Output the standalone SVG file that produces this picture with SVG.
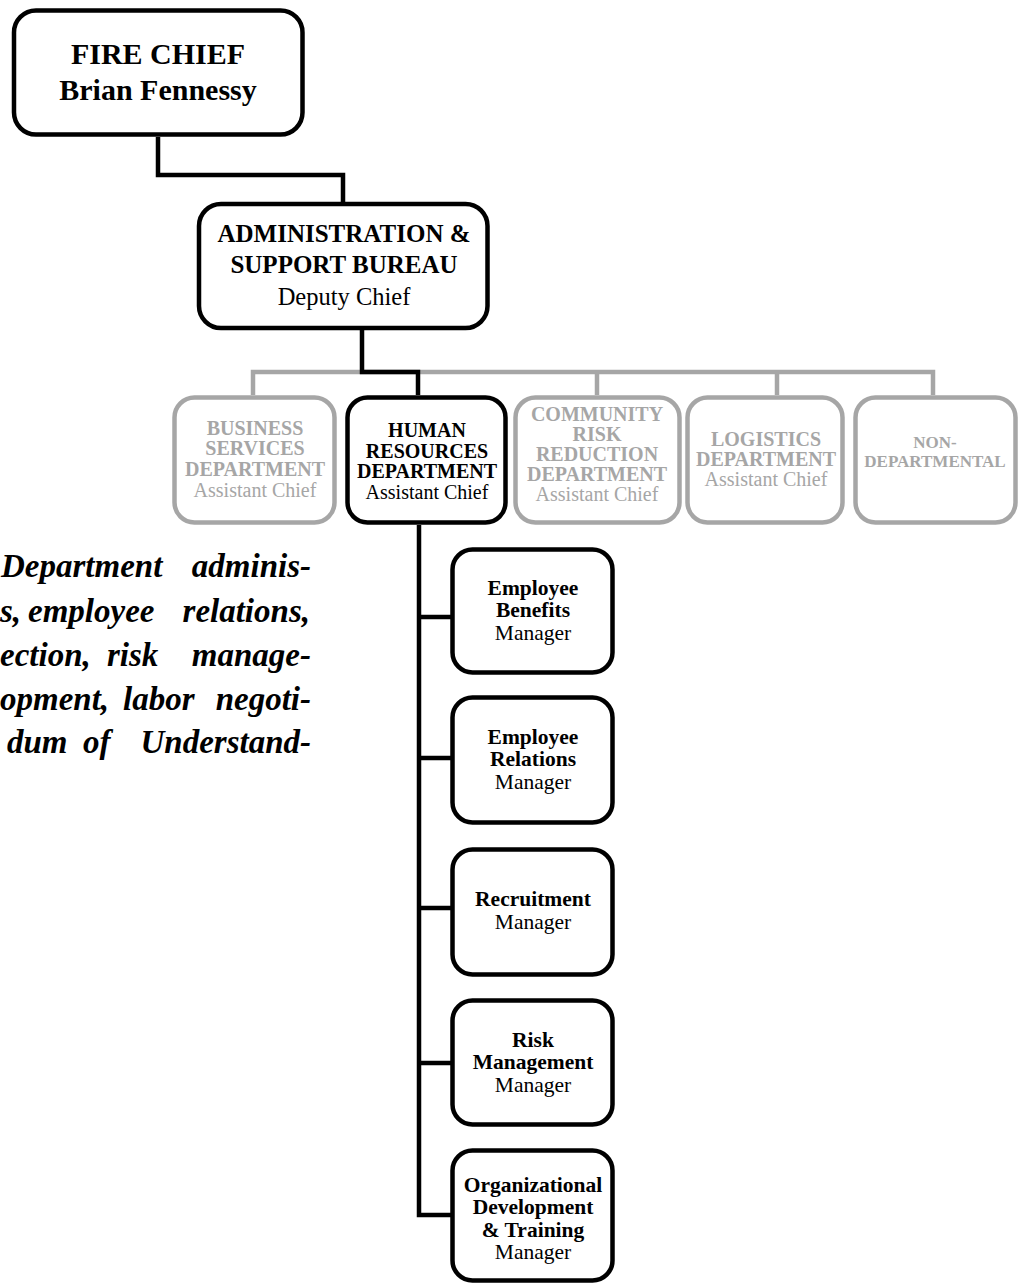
<svg xmlns="http://www.w3.org/2000/svg" width="1025" height="1286" viewBox="0 0 1025 1286">
  <style>
    .box { fill: #ffffff; stroke: #000000; stroke-width: 4.5; }
    .dim { fill: #ffffff; stroke: #a6a6a6; stroke-width: 4.5; }
    .link { fill: none; stroke: #000000; stroke-width: 4.5; stroke-linejoin: miter; }
    .glink { fill: none; stroke: #a6a6a6; stroke-width: 4.5; stroke-linejoin: miter; }
    text { font-family: "Liberation Serif", "Times New Roman", serif; text-anchor: middle; fill: #000000; }
    .b { font-weight: bold; }
    .g { fill: #a6a6a6; }
    .t1 { font-size: 30px; }
    .t2 { font-size: 24.5px; }
    .t2b { font-size: 25px; }
    .t3 { font-size: 20px; }
    .t3s { font-size: 17px; }
    .t4 { font-size: 21.5px; }
    .para { font-size: 33px; font-weight: bold; font-style: italic; text-anchor: start; }
    .para.e { text-anchor: end; }
  </style>
  <rect width="1025" height="1286" fill="#ffffff"/>

  <!-- description paragraph (left column, cut at page edge) -->
  <g id="description">
    <text class="para" x="1" y="577">Department</text>
    <text class="para e" x="311" y="577">adminis-</text>
    <text class="para" x="0" y="622">s,</text>
    <text class="para" x="28" y="622">employee</text>
    <text class="para e" x="310" y="622">relations,</text>
    <text class="para" x="0" y="666">ection,</text>
    <text class="para" x="107" y="666">risk</text>
    <text class="para e" x="311" y="666">manage-</text>
    <text class="para" x="0" y="710">opment,</text>
    <text class="para" x="123" y="710">labor</text>
    <text class="para e" x="311" y="710">negoti-</text>
    <text class="para" x="7" y="753">dum</text>
    <text class="para" x="83" y="753">of</text>
    <text class="para e" x="311" y="753">Understand-</text>
  </g>

  <!-- connectors -->
  <g id="connectors">
    <path class="glink" d="M253,395 V372 H933 V395"/>
    <path class="glink" d="M597,372 V395"/>
    <path class="glink" d="M777,372 V395"/>
    <path class="link" d="M158,137 V175 H343 V202"/>
    <path class="link" d="M362,330 V372 H418 V395"/>
    <path class="link" d="M419,525 V1215 H452"/>
    <path class="link" d="M419,617 H452"/>
    <path class="link" d="M419,758 H452"/>
    <path class="link" d="M419,908 H452"/>
    <path class="link" d="M419,1063 H452"/>
  </g>

  <g id="fire-chief">
    <rect class="box" x="14" y="10.5" width="288.5" height="124" rx="22"/>
    <text class="b t1" x="158" y="64">FIRE CHIEF</text>
    <text class="b t1" x="158" y="100">Brian Fennessy</text>
  </g>

  <g id="admin-support-bureau">
    <rect class="box" x="199" y="204" width="288.5" height="124" rx="22"/>
    <text class="b t2b" x="344" y="242">ADMINISTRATION &amp;</text>
    <text class="b t2b" x="344" y="273">SUPPORT BUREAU</text>
    <text class="t2" x="344" y="305">Deputy Chief</text>
  </g>

  <g id="business-services">
    <rect class="dim" x="174.5" y="397.5" width="160" height="125" rx="20"/>
    <text class="b t3 g" x="255" y="435">BUSINESS</text>
    <text class="b t3 g" x="255" y="455">SERVICES</text>
    <text class="b t3 g" x="255" y="476">DEPARTMENT</text>
    <text class="t3 g" x="255" y="497">Assistant Chief</text>
  </g>

  <g id="human-resources">
    <rect class="box" x="347.5" y="397.5" width="158" height="125" rx="20"/>
    <text class="b t3" x="427" y="437">HUMAN</text>
    <text class="b t3" x="427" y="458">RESOURCES</text>
    <text class="b t3" x="427" y="478">DEPARTMENT</text>
    <text class="t3" x="427" y="499">Assistant Chief</text>
  </g>

  <g id="community-risk-reduction">
    <rect class="dim" x="515.5" y="397.5" width="164" height="125" rx="20"/>
    <text class="b t3 g" x="597" y="421">COMMUNITY</text>
    <text class="b t3 g" x="597" y="441">RISK</text>
    <text class="b t3 g" x="597" y="461">REDUCTION</text>
    <text class="b t3 g" x="597" y="481">DEPARTMENT</text>
    <text class="t3 g" x="597" y="501">Assistant Chief</text>
  </g>

  <g id="logistics">
    <rect class="dim" x="687.5" y="397.5" width="155" height="125" rx="20"/>
    <text class="b t3 g" x="766" y="446">LOGISTICS</text>
    <text class="b t3 g" x="766" y="466">DEPARTMENT</text>
    <text class="t3 g" x="766" y="486">Assistant Chief</text>
  </g>

  <g id="non-departmental">
    <rect class="dim" x="855.5" y="397.5" width="160" height="125" rx="20"/>
    <text class="b t3s g" x="935" y="448">NON-</text>
    <text class="b t3s g" x="935" y="467">DEPARTMENTAL</text>
  </g>

  <g id="employee-benefits">
    <rect class="box" x="452.5" y="549.5" width="160" height="123" rx="20"/>
    <text class="b t4" x="533" y="595">Employee</text>
    <text class="b t4" x="533" y="617">Benefits</text>
    <text class="t4" x="533" y="640">Manager</text>
  </g>

  <g id="employee-relations">
    <rect class="box" x="452.5" y="697.5" width="160" height="125" rx="20"/>
    <text class="b t4" x="533" y="744">Employee</text>
    <text class="b t4" x="533" y="766">Relations</text>
    <text class="t4" x="533" y="789">Manager</text>
  </g>

  <g id="recruitment">
    <rect class="box" x="452.5" y="849.5" width="160" height="125" rx="20"/>
    <text class="b t4" x="533" y="906">Recruitment</text>
    <text class="t4" x="533" y="929">Manager</text>
  </g>

  <g id="risk-management">
    <rect class="box" x="452.5" y="1000.5" width="160" height="124" rx="20"/>
    <text class="b t4" x="533" y="1047">Risk</text>
    <text class="b t4" x="533" y="1069">Management</text>
    <text class="t4" x="533" y="1092">Manager</text>
  </g>

  <g id="org-development-training">
    <rect class="box" x="452.5" y="1150.5" width="160" height="130" rx="20"/>
    <text class="b t4" x="533" y="1192">Organizational</text>
    <text class="b t4" x="533" y="1214">Development</text>
    <text class="b t4" x="533" y="1237">&amp; Training</text>
    <text class="t4" x="533" y="1259">Manager</text>
  </g>
</svg>
